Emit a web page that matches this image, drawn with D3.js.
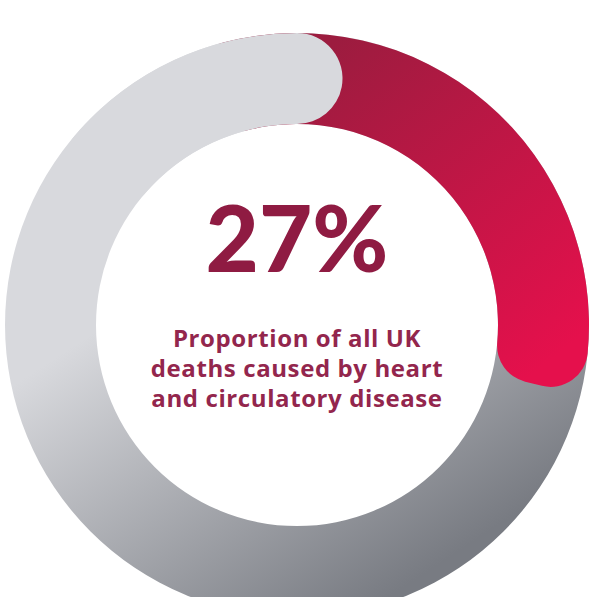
<!DOCTYPE html>
<html>
<head>
<meta charset="utf-8">
<script src="https://cdn.jsdelivr.net/npm/d3@7"></script>
<style>
  body { margin: 0; background: #fff; }
  svg { display: block; }
</style>
</head>
<body>
<svg id="chart" width="593" height="597"></svg>
<script>
// data
const categories = ["Heart and circulatory disease", "All other causes"];
const values = [27, 73];
const headline = "27%";
const captionLines = ["Proportion of all UK", "deaths caused by heart", "and circulatory disease"];

let width = 593, height = 597;
let cx = 297, cy = 325;
let outerR = 292, innerR = 201;
let midR = (outerR + innerR) / 2;
let half = (outerR - innerR) / 2;

let svg = d3.select("#chart");
let defs = svg.append("defs");

let greyGrad = defs.append("linearGradient")
    .attr("id", "greyGrad")
    .attr("gradientUnits", "userSpaceOnUse")
    .attr("x1", -100).attr("y1", -60)
    .attr("x2", 110).attr("y2", 260);
greyGrad.append("stop").attr("offset", "0%").attr("stop-color", "#d8d9dd");
greyGrad.append("stop").attr("offset", "100%").attr("stop-color", "#787b82");

let redGrad = defs.append("linearGradient")
    .attr("id", "redGrad")
    .attr("gradientUnits", "userSpaceOnUse")
    .attr("x1", 20).attr("y1", -270)
    .attr("x2", 260).attr("y2", 30);
redGrad.append("stop").attr("offset", "0%").attr("stop-color", "#9c1c3f");
redGrad.append("stop").attr("offset", "100%").attr("stop-color", "#e5104c");

let g = svg.append("g")
    .attr("transform", `translate(${cx}, ${cy})`);

let pie = d3.pie().sort(null).value(d => d);
let slices = pie(values);

let ring = d3.arc().innerRadius(innerR).outerRadius(outerR);

// grey track under everything
g.append("path")
    .attr("fill", "url(#greyGrad)")
    .attr("d", ring({ startAngle: 0, endAngle: 2 * Math.PI }));

// red value arc, start tucked under the grey tip, end gets a rounded tip
let capExt = 29 / midR;
let red = slices[0];
g.append("path")
    .attr("fill", "url(#redGrad)")
    .attr("d", d3.arc().innerRadius(innerR).outerRadius(outerR).cornerRadius(37)({
        startAngle: red.startAngle - 0.4,
        endAngle: red.endAngle + capExt
    }));

// grey tip sitting over the red start
let grey = slices[1];
let capAngle = Math.asin(half / midR);
g.append("path")
    .attr("fill", "url(#greyGrad)")
    .attr("d", d3.arc().innerRadius(innerR).outerRadius(outerR).cornerRadius(half)({
        startAngle: grey.endAngle - 1.05,
        endAngle: grey.endAngle + capAngle
    }));

// centre text
svg.append("text")
    .attr("x", cx)
    .attr("y", 272)
    .attr("text-anchor", "middle")
    .attr("font-family", "Lato, sans-serif")
    .attr("font-weight", 900)
    .attr("font-size", 92)
    .attr("fill", "#8f1b42")
    .text(headline);

svg.append("g")
    .selectAll("text")
    .data(captionLines)
    .join("text")
    .attr("x", cx)
    .attr("y", (d, i) => 347 + i * 30)
    .attr("text-anchor", "middle")
    .attr("font-family", "'Open Sans', sans-serif")
    .attr("font-weight", 700)
    .attr("font-size", 24)
    .attr("letter-spacing", 0.6)
    .attr("fill", "#93264d")
    .text(d => d);
</script>
</body>
</html>
